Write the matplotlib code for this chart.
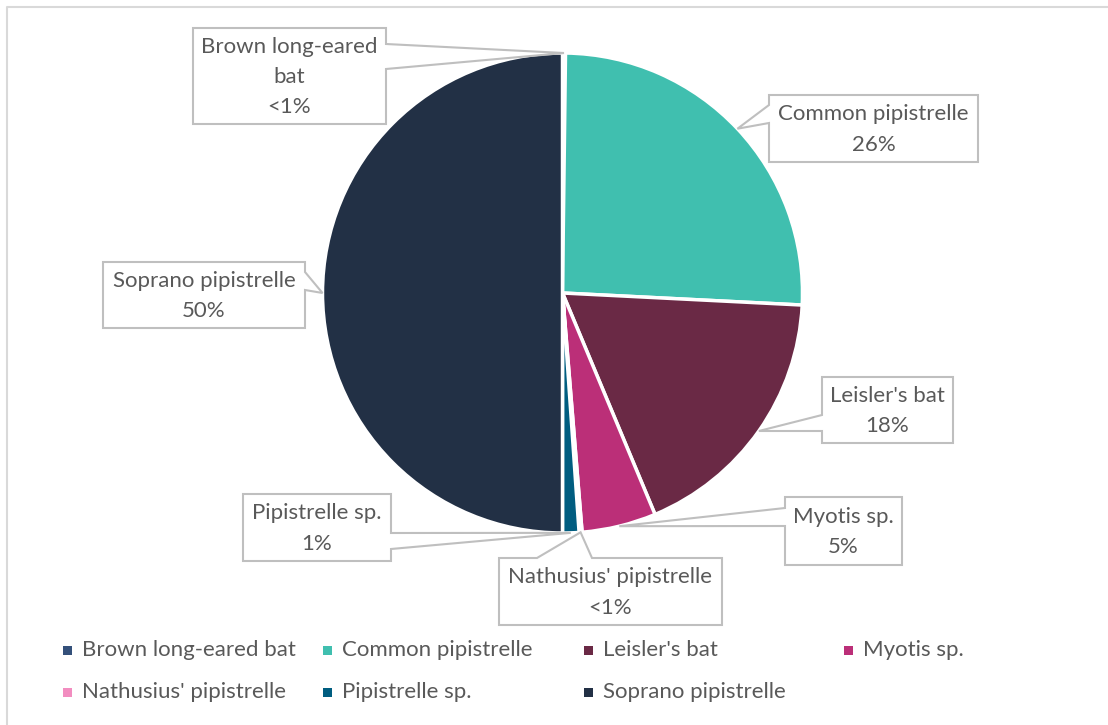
import numpy as np
import matplotlib.pyplot as plt
from matplotlib.patches import Polygon, Rectangle

W, H = 1108, 725

species = ["Brown long-eared bat", "Common pipistrelle", "Leisler's bat", "Myotis sp.",
           "Nathusius' pipistrelle", "Pipistrelle sp.", "Soprano pipistrelle"]
share = [0.2, 25.6, 17.9, 5.0, 0.2, 1.1, 50.0]
colors = ["#34507A", "#40BFAF", "#6A2945", "#BB2F78", "#F28DC0", "#005D80", "#223045"]
label_names = ["Brown long-eared\nbat", "Common pipistrelle", "Leisler's bat", "Myotis sp.",
               "Nathusius' pipistrelle", "Pipistrelle sp.", "Soprano pipistrelle"]

# callout boxes in pixel coords: (x0, y0, x1, y1), side with pointer, pointer base
callouts = [
    ((193, 28, 386, 124), "right", (44, 69)),
    ((769, 95, 978, 162), "left", (105, 123)),
    ((822, 377, 953, 443), "left", (415, 431)),
    ((785, 497, 902, 565), "left", (508, 526)),
    ((499, 558, 722, 625), "top", (537, 592)),
    ((243, 494, 391, 561), "right", (533, 549)),
    ((103, 262, 305, 328), "right", (272, 290)),
]

TXT = "#595959"
EDGE = "#BFBFBF"
FONT = "Lato"
FS = 16

fig = plt.figure(figsize=(W / 100, H / 100), dpi=100)

cx, cy, r = 562.5, 293, 240
ax = fig.add_axes([(cx - r) / W, (H - cy - r) / H, 2 * r / W, 2 * r / H])
wedges, _ = ax.pie(share, colors=colors, startangle=90, counterclock=False,
                   wedgeprops=dict(edgecolor="white", linewidth=2.5))
ax.set_xlim(-1, 1)
ax.set_ylim(-1, 1)
ax.apply_aspect()

ov = fig.add_axes([0, 0, 1, 1], zorder=5)
ov.set_xlim(0, W)
ov.set_ylim(H, 0)
ov.axis("off")
ov.patch.set_visible(False)

# chart area border (only top and left show)
ov.plot([7, 7, W + 5], [H + 5, 7, 7], color="#D9D9D9", lw=1.5, clip_on=False)


def pct_text(v):
    return "<1%" if v < 1 else f"{round(v)}%"


for w, name, v, (box, side, base) in zip(wedges, label_names, share, callouts):
    mid = np.deg2rad((w.theta1 + w.theta2) / 2)
    disp = ax.transData.transform((np.cos(mid), np.sin(mid)))
    tip = tuple(ov.transData.inverted().transform(disp))
    x0, y0, x1, y1 = box
    b1, b2 = base
    if side == "right":
        pts = [(x0, y0), (x1, y0), (x1, b1), tip, (x1, b2), (x1, y1), (x0, y1)]
    elif side == "left":
        pts = [(x0, y0), (x1, y0), (x1, y1), (x0, y1), (x0, b2), tip, (x0, b1)]
    else:
        pts = [(x0, y0), (b1, y0), tip, (b2, y0), (x1, y0), (x1, y1), (x0, y1)]
    ov.add_patch(Polygon(pts, closed=True, facecolor="white", edgecolor=EDGE, lw=1.5))
    ov.text((x0 + x1) / 2, (y0 + y1) / 2 + 1, f"{name}\n{pct_text(v)}", ha="center", va="center",
            color=TXT, fontsize=FS, family=FONT, linespacing=1.65)

# legend, row-major in four columns
col_x = [63, 323, 584, 844]
row_y = [650, 692]
for i, (name, c) in enumerate(zip(species, colors)):
    x = col_x[i % 4]
    y = row_y[i // 4]
    ov.add_patch(Rectangle((x, y - 4.5), 9, 9, facecolor=c, edgecolor="none"))
    ov.text(x + 19, y, name, ha="left", va="center", color=TXT, fontsize=FS, family=FONT)

fig.savefig("out.png", dpi=100, facecolor="white")
